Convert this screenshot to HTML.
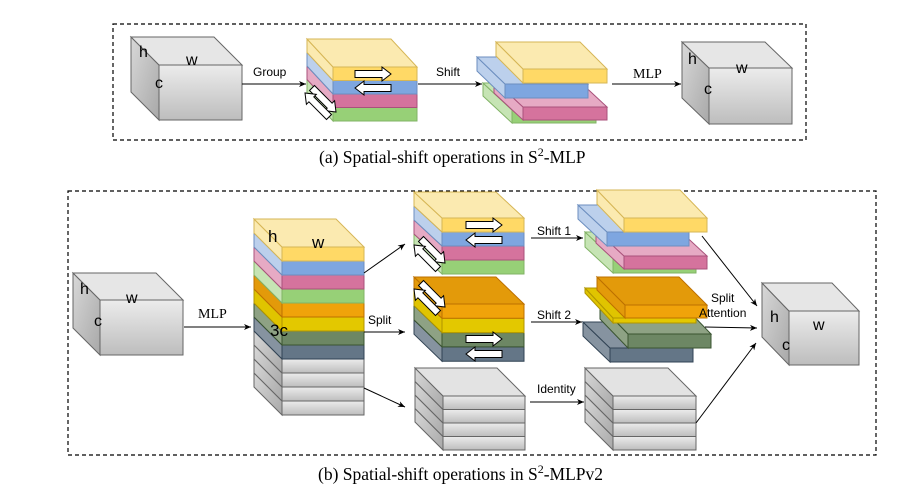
<!DOCTYPE html>
<html><head><meta charset="utf-8"><style>
html,body{margin:0;padding:0;background:#fff;}
svg{display:block;}
text{font-family:"Liberation Sans",sans-serif;fill:#000;}
.s{font-family:"Liberation Serif",serif;}
.L{font-size:16px;}
</style></head><body>
<svg id="g" width="908" height="494" viewBox="0 0 908 494" xmlns="http://www.w3.org/2000/svg">
<defs>
<marker id="ar" markerWidth="8" markerHeight="8" refX="7" refY="4" orient="auto" markerUnits="userSpaceOnUse">
<path d="M0,1 L7,4 L0,7 L2,4 Z" fill="#000"/></marker>
<linearGradient id="gf" x1="0" y1="0" x2="0" y2="1"><stop offset="0" stop-color="#ececec"/><stop offset="1" stop-color="#bdbdbd"/></linearGradient>
<linearGradient id="gl" x1="0" y1="0" x2="1" y2="1"><stop offset="0" stop-color="#d8d8d8"/><stop offset="1" stop-color="#a8a8a8"/></linearGradient>
</defs>
<rect x="113" y="24" width="693" height="116" fill="none" stroke="#000" stroke-dasharray="4,3" stroke-width="1.2"/>
<rect x="68" y="191" width="808" height="264" fill="none" stroke="#000" stroke-dasharray="4,3" stroke-width="1.2"/>
<g id="shapes"></g>
<g fill="none" stroke="#000" stroke-width="1" marker-end="url(#ar)">
<line x1="242" y1="84" x2="306" y2="84"/>
<line x1="418" y1="84" x2="482" y2="84"/>
<line x1="612" y1="84" x2="681" y2="84"/>
<line x1="184" y1="327" x2="251" y2="327"/>
<line x1="364" y1="273" x2="405" y2="244"/>
<line x1="364" y1="332" x2="405" y2="332"/>
<line x1="364" y1="388" x2="405" y2="407"/>
<line x1="531" y1="238" x2="583" y2="238"/>
<line x1="531" y1="322" x2="582" y2="322"/>
<line x1="530" y1="402" x2="584" y2="402"/>
<line x1="702" y1="236" x2="757" y2="306"/>
<line x1="705" y1="327" x2="757" y2="328"/>
<line x1="696" y1="423" x2="756" y2="343"/>
</g>
<text x="253" y="76" font-size="12">Group</text>
<text x="436" y="76" font-size="12">Shift</text>
<text x="633" y="78" font-size="14" class="s">MLP</text>
<text x="198" y="318" font-size="14" class="s">MLP</text>
<text x="368" y="324" font-size="12">Split</text>
<text x="537" y="235" font-size="12">Shift 1</text>
<text x="537" y="319" font-size="12">Shift 2</text>
<text x="537" y="393" font-size="12">Identity</text>
<text x="711" y="302" font-size="12">Split</text>
<text x="699" y="317" font-size="12">Attention</text>
<text x="139" y="57" class="L">h</text><text x="186" y="65" class="L">w</text><text x="155" y="88" class="L">c</text>
<text x="688" y="64" class="L">h</text><text x="736" y="73" class="L">w</text><text x="704" y="94" class="L">c</text>
<text x="80" y="294" class="L">h</text><text x="126" y="303" class="L">w</text><text x="94" y="326" class="L">c</text>
<text x="268" y="242" font-size="17">h</text><text x="312" y="248" font-size="17">w</text><text x="270" y="336" font-size="17">3c</text>
<text x="770" y="322" class="L">h</text><text x="813" y="330" class="L">w</text><text x="782" y="350" class="L">c</text>
<text x="319" y="163" font-size="17.5" class="s">(a)  Spatial-shift operations in S<tspan font-size="12" dy="-7">2</tspan><tspan dy="7">-MLP</tspan></text>
<text x="318" y="480" font-size="17.5" class="s">(b)  Spatial-shift operations in S<tspan font-size="12" dy="-7">2</tspan><tspan dy="7">-MLPv2</tspan></text>
</svg>
<script>
var C={y:['#ffd966','#fbeab0','#d6b656'],b:['#7ea6e0','#bcd0ec','#6c8ebf'],p:['#d5739d','#e6aac4','#a9527b'],
g:['#97d077','#c6e4b4','#82b366'],o:['#f0a30a','#e39a0a','#bd7000'],Y:['#e3c800','#e0c400','#b09500'],
G:['#6d8764','#8ea284','#3a5431'],S:['#647687','#8693a0','#314354'],k:['url(#gf)','#e3e3e3','#666']};
var out='';
function poly(p,f,s){out+='<polygon points="'+p.map(function(a){return a.join(',')}).join(' ')+'" fill="'+f+'" stroke="'+s+'" stroke-width="1"/>';}
function slab(x,y,w,h,dx,dy,c,top){var k=C[c];
 var lf=c=='k'?'url(#gl)':k[1];
 poly([[x-dx,y-dy],[x,y],[x,y+h],[x-dx,y+h-dy]],lf,k[2]);
 if(top!==false)poly([[x-dx,y-dy],[x+w-dx,y-dy],[x+w,y],[x,y]],k[1],k[2]);
 poly([[x,y],[x+w,y],[x+w,y+h],[x,y+h]],k[0],k[2]);}
function stack(x,y,w,h,dx,dy,cols){for(var i=cols.length-1;i>=0;i--)slab(x,y+i*h,w,h,dx,dy,cols[i],i==0);}
function cube(x,y,w,h,dx,dy){var s='#666';
 poly([[x-dx,y-dy],[x,y],[x,y+h],[x-dx,y+h-dy]],'url(#gl)',s);
 poly([[x-dx,y-dy],[x+w-dx,y-dy],[x+w,y],[x,y]],'#e6e6e6',s);
 poly([[x,y],[x+w,y],[x+w,y+h],[x,y+h]],'url(#gf)',s);}
function arrow(cx,cy,L,dir,ang){ang=ang||0;var t=3.5,hw=7,hl=9,a=L/2;
 var p=[[-a,-t],[a-hl,-t],[a-hl,-hw],[a,0],[a-hl,hw],[a-hl,t],[-a,t]];
 var r=(ang+(dir<0?180:0))*Math.PI/180,cs=Math.cos(r),sn=Math.sin(r);
 poly(p.map(function(q){return [(cx+q[0]*cs-q[1]*sn).toFixed(1),(cy+q[0]*sn+q[1]*cs).toFixed(1)]}),'#fff','#000');}
// (a)
cube(159,65,83,55,28,28);
stack(333,67,84,13.5,26,28,['y','b','p','g']);
arrow(373,74,36,1);arrow(373,88,36,-1);arrow(324,100,34,1,45);arrow(317,105,34,-1,45);
slab(512,110,84,13,29,27,'g');slab(523,107,84,13,29,27,'p');slab(505,84,83,14,28,27,'b');slab(523,69,84,14,27,27,'y');
cube(709,68,83,56,27,26);
// (b)
cube(100,300,83,55,27,27);
stack(282,247,82,14,28,28,['y','b','p','g','o','Y','G','S','k','k','k','k']);
stack(442,218,82,14,28,26,['y','b','p','g']);
arrow(484,225,36,1);arrow(484,240,36,-1);arrow(433,251,34,1,45);arrow(426,257,34,-1,45);
stack(442,304,82,14.3,28,27,['o','Y','G','S']);
arrow(484,339,36,1);arrow(484,354,36,-1);arrow(433,295,34,1,45);arrow(426,301,34,-1,45);
stack(443,396,82,13.5,28,28,['k','k','k','k']);
slab(613,258,83,15,28,26,'g');slab(624,256,83,13,28,26,'p');slab(607,232,82,14,29,27,'b');slab(624,218,83,14,27,28,'y');
slab(610,348,83,14,27,26,'S');slab(628,334,83,14,28,29,'G');slab(613,318,83,5,28,30,'Y');slab(625,305,82,13,28,28,'o');
stack(613,396,83,13.5,28,28,['k','k','k','k']);
cube(789,311,70,54,27,28);
document.getElementById('shapes').innerHTML=out;
</script>
</body></html>
